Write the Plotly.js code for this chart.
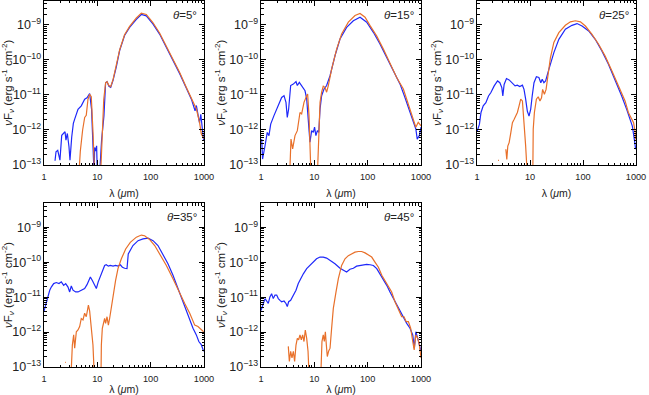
<!DOCTYPE html>
<html><head><meta charset="utf-8">
<script src="https://cdn.plot.ly/plotly-3.0.1.min.js"></script>
<style>html,body{margin:0;padding:0;background:#fff;}#c{width:649px;height:395px;}</style>
</head><body><div id="c"></div>
<script>
// Values: wavelength (micron) and log10(nu F_nu) in erg s^-1 cm^-2
const angles = ['5', '15', '25', '35', '45'];

const p1BlueLam = [1.61,1.68,1.81,1.89,1.99,2.15,2.30,2.48,2.58,2.74,2.94,3.07,3.31,3.55,3.76,4.34,5.0,5.79,6.4,7.18,7.8,8.5,8.7,8.9,9.3,9.7,10.0,11.0,12.0,13.3,14.3,15.2,16.5,17.8,19.7,22.7,26.2,32.4,40.3,53.9,66.8,82.8,110,147,196,262,350,465,580,680,720,780,825,870,930,985];
const p1BlueLogF = [-12.88,-12.62,-12.58,-12.77,-12.86,-12.15,-12.10,-12.05,-12.29,-12.10,-12.48,-12.86,-12.20,-11.81,-11.69,-11.41,-11.31,-11.12,-11.08,-10.96,-11.41,-12.9,-13.3,-12.5,-12.6,-12.45,-13.3,-13.3,-12.3,-11.6,-10.65,-10.62,-10.75,-10.78,-10.58,-10.20,-9.73,-9.30,-9.07,-8.84,-8.70,-8.74,-8.97,-9.26,-9.63,-10.01,-10.39,-10.80,-11.12,-11.45,-11.30,-11.60,-11.80,-11.55,-12.00,-12.30];
const p1OrangeLam = [4.5,4.8,5.3,5.79,6.2,6.68,7.18,7.7,8.3,8.9,11.5,12.4,13.2,14.3,15.2,16.5,17.8,19.7,22.7,26.2,32.4,40.3,53.9,66.8,82.8,110,147,196,262,350,465,580,720,825,890,955,1000];
const p1OrangeLogF = [-13.3,-12.6,-12.0,-11.64,-11.58,-11.12,-10.98,-11.05,-12.07,-13.3,-13.3,-12.07,-11.12,-10.65,-10.62,-10.73,-10.76,-10.56,-10.18,-9.71,-9.28,-9.04,-8.80,-8.66,-8.70,-8.93,-9.23,-9.60,-9.98,-10.36,-10.78,-11.10,-11.40,-11.78,-12.11,-12.20,-12.25];

const p2BlueLam = [1.03,1.07,1.19,1.31,1.41,1.52,1.75,2.11,2.44,2.70,2.94,3.11,3.30,3.60,4.04,4.53,4.80,5.23,5.78,6.69,7.19,7.83,8.28,8.91,9.58,10.1,10.7,11.4,12.1,12.8,13.7,15.2,17.0,19.7,24.4,30.3,40.3,53.9,71.9,95.9,128,170,228,304,405,500,622,718,800,850,930,1000];
const p2BlueLogF = [-12.26,-12.83,-12.45,-12.07,-12.16,-11.83,-11.59,-11.30,-11.07,-11.02,-11.21,-11.64,-11.40,-10.73,-10.69,-10.62,-10.73,-10.64,-10.75,-10.88,-11.11,-11.88,-12.35,-12.02,-12.07,-11.92,-12.16,-12.02,-12.07,-11.40,-11.02,-10.83,-10.73,-10.45,-9.88,-9.40,-9.07,-8.88,-8.78,-8.92,-9.21,-9.54,-9.92,-10.30,-10.69,-11.07,-11.50,-11.73,-11.97,-12.26,-12.16,-11.92];
const p2OrangeLam = [3.45,3.65,3.92,4.34,4.80,5.38,5.78,6.40,7.19,7.49,7.95,8.28,8.65,11.4,12.1,12.8,13.7,14.7,15.8,17.0,18.3,21.1,26.2,32.5,43.4,57.9,71.9,89.4,111,148,197,262,350,467,540,622,718,800,887,1000];
const p2OrangeLogF = [-13.3,-12.26,-12.54,-12.16,-12.02,-11.50,-11.54,-11.21,-11.02,-10.97,-11.59,-12.26,-13.3,-13.3,-12.07,-11.21,-10.92,-10.75,-10.78,-10.92,-10.73,-10.26,-9.69,-9.26,-8.92,-8.73,-8.67,-8.78,-9.02,-9.32,-9.69,-10.11,-10.50,-10.83,-11.11,-11.40,-11.69,-11.92,-11.78,-11.88];

const p3BlueLam = [1.0,1.03,1.11,1.19,1.31,1.47,1.65,1.83,2.11,2.44,2.70,2.94,3.07,3.25,3.60,4.04,4.66,5.23,5.78,6.40,7.19,7.71,8.28,8.90,9.58,10.3,11.0,11.9,13.2,14.7,16.0,17.0,18.3,19.7,22.7,28.2,35.0,46.5,62.0,77.1,95.9,128,170,227,302,403,537,667,770,853,930,985];
const p3BlueLogF = [-12.05,-11.98,-11.84,-11.50,-11.31,-11.22,-11.03,-10.93,-10.74,-10.60,-10.65,-10.79,-11.03,-10.70,-10.53,-10.57,-10.65,-10.74,-10.72,-10.76,-10.72,-10.84,-11.12,-11.46,-11.60,-11.41,-11.03,-10.65,-10.48,-10.50,-10.65,-10.55,-10.65,-10.60,-10.27,-9.79,-9.41,-9.12,-9.01,-8.96,-9.03,-9.17,-9.41,-9.74,-10.12,-10.55,-11.03,-11.41,-11.70,-11.89,-12.27,-12.55];
const p3OrangeLam = [2.50,2.60,null,3.50,3.65,3.81,4.04,4.34,4.66,5.0,5.38,5.78,6.22,6.68,7.19,7.71,8.28,8.90,11.3,11.5,12.1,13.2,14.3,15.4,16.5,17.3,18.7,20.1,22.0,24.3,28.2,35.0,46.5,57.9,71.9,89.4,111,148,197,262,350,467,622,718,800,900,960,985];
const p3OrangeLogF = [-12.87,-12.87,null,-12.55,-12.84,-12.46,-12.36,-12.08,-11.79,-11.70,-11.60,-11.50,-11.31,-11.12,-11.17,-11.70,-12.46,-13.3,-13.3,-11.98,-11.50,-11.12,-11.05,-11.17,-11.08,-10.84,-10.98,-10.84,-10.36,-9.93,-9.50,-9.22,-9.01,-8.91,-8.88,-8.91,-9.03,-9.27,-9.55,-9.89,-10.31,-10.74,-11.17,-11.50,-11.65,-11.79,-12.03,-12.27];

const p4BlueLam = [1.0,1.03,1.11,1.19,1.28,1.37,1.52,1.70,1.91,2.11,2.34,2.55,2.82,3.03,3.25,3.50,3.92,4.34,5.0,5.78,6.40,6.98,7.40,8.06,8.9,9.58,10.4,11.4,12.4,13.7,14.7,16.1,17.5,19.7,22.0,24.4,27.0,29.5,32.5,36.0,38.0,46.5,58.0,71.9,89.4,111,137,170,211,262,325,403,500,622,718,800,888,985];
const p4BlueLogF = [-11.40,-11.32,-11.13,-10.94,-10.80,-10.71,-10.61,-10.58,-10.61,-10.56,-10.66,-10.61,-10.71,-10.85,-10.68,-10.80,-10.85,-10.85,-10.80,-10.75,-10.64,-10.47,-10.42,-10.52,-10.66,-10.75,-10.56,-10.42,-10.28,-10.09,-10.07,-10.11,-10.09,-10.11,-10.09,-10.11,-10.07,-10.14,-10.17,-10.18,-9.76,-9.52,-9.38,-9.33,-9.31,-9.38,-9.52,-9.76,-10.04,-10.37,-10.75,-11.13,-11.51,-11.89,-12.08,-12.27,-12.36,-12.55];
const p4OrangeLam = [2.50,2.58,null,3.20,3.40,3.60,3.76,4.04,4.34,4.66,5.0,5.38,5.78,6.2,6.8,7.18,7.71,8.28,8.8,11.7,11.9,12.4,13.7,14.3,15.2,16.1,17.0,18.3,19.7,22.0,24.4,28.2,34.0,41.5,53.9,66.8,77.0,96,119,148,197,262,350,435,540,670,770,888,985];
const p4OrangeLogF = [-12.87,-12.87,null,-13.3,-12.37,-12.08,-12.46,-11.99,-11.94,-11.84,-11.61,-11.65,-11.46,-11.56,-11.23,-11.40,-11.80,-12.37,-13.3,-13.3,-12.37,-11.89,-11.61,-11.75,-11.56,-11.80,-11.61,-11.27,-10.94,-10.52,-10.18,-9.90,-9.62,-9.43,-9.28,-9.22,-9.24,-9.35,-9.52,-9.76,-10.09,-10.47,-10.90,-11.18,-11.46,-11.80,-11.84,-11.94,-11.99];

const p5BlueLam = [1.0,1.03,1.11,1.19,1.28,1.37,1.47,1.58,1.70,1.83,1.97,2.11,2.27,2.44,2.70,2.94,3.11,3.30,3.60,4.04,4.53,5.0,5.55,6.22,7.19,8.28,9.58,11.0,12.8,14.7,17.0,19.7,24.4,30.3,35.0,40.3,46.5,53.9,62.0,77.1,95.9,111,128,148,170,197,228,262,304,350,405,467,540,622,700,750,800,870,930,1000];
const p5BlueLogF = [-11.38,-11.32,-11.13,-11.04,-11.11,-11.18,-10.99,-10.90,-11.04,-10.94,-10.94,-11.04,-11.09,-11.13,-11.11,-11.18,-11.27,-11.13,-11.09,-10.94,-10.80,-10.61,-10.47,-10.33,-10.18,-10.09,-10.00,-9.90,-9.85,-9.85,-9.88,-9.95,-10.04,-10.17,-10.23,-10.28,-10.20,-10.17,-10.11,-10.09,-10.06,-10.07,-10.09,-10.18,-10.33,-10.52,-10.66,-10.85,-11.04,-11.23,-11.42,-11.61,-11.75,-11.89,-12.08,-12.46,-11.99,-12.18,-12.36,-12.55];
const p5OrangeLam = [3.25,3.40,3.60,3.81,4.04,4.27,4.53,4.80,5.08,5.38,5.70,6.04,6.40,6.77,7.19,7.62,8.0,13.2,13.9,14.7,15.4,16.1,16.8,17.5,18.5,19.7,21.1,22.7,25.5,28.2,32.5,37.6,43.4,50.2,57.9,67,77.1,89.4,103,119,138,159,184,211,244,282,325,375,434,481,527,580,640,700,745,800,870,930,1000];
const p5OrangeLogF = [-12.41,-12.84,-12.55,-12.74,-12.55,-12.84,-12.37,-12.18,-12.22,-12.08,-12.22,-12.08,-12.27,-11.94,-12.18,-12.55,-13.3,-13.3,-12.27,-12.08,-12.27,-11.99,-12.37,-12.70,-12.55,-12.46,-11.89,-11.32,-10.85,-10.47,-10.09,-9.90,-9.81,-9.76,-9.71,-9.69,-9.69,-9.73,-9.79,-9.85,-10.00,-10.14,-10.37,-10.52,-10.71,-10.85,-11.13,-11.32,-11.56,-11.56,-11.70,-11.70,-11.89,-12.27,-12.51,-12.08,-12.18,-12.36,-12.74];

const xTickVals = [1, 10, 100, 1000];
const panels = [
  {lamB:p1BlueLam, fB:p1BlueLogF, lamO:p1OrangeLam, fO:p1OrangeLogF},
  {lamB:p2BlueLam, fB:p2BlueLogF, lamO:p2OrangeLam, fO:p2OrangeLogF},
  {lamB:p3BlueLam, fB:p3BlueLogF, lamO:p3OrangeLam, fO:p3OrangeLogF},
  {lamB:p4BlueLam, fB:p4BlueLogF, lamO:p4OrangeLam, fO:p4OrangeLogF},
  {lamB:p5BlueLam, fB:p5BlueLogF, lamO:p5OrangeLam, fO:p5OrangeLogF}
];

const BLUE = 'rgb(30,40,250)';
const ORANGE = 'rgb(232,112,42)';
const W = 649, H = 395;
// panel frames in px: [left, right, top, bottom]
const frames = [[44,204,0.5,165],[261,421,0.5,165],[477,636,0.5,165],[44,204,203,367],[261,421,203,367]];

const toLin = a => a.map(v => v === null ? null : Math.pow(10, v));
const traces = [];
const layout = {
  width: W, height: H, margin: {l:0, r:0, t:0, b:0},
  paper_bgcolor: '#fff', plot_bgcolor: '#fff', showlegend: false,
  font: {family: 'Liberation Sans, Arial, sans-serif', color: '#222'},
  annotations: []
};
panels.forEach((p, i) => {
  const n = i + 1;
  const xs = 'x' + (n === 1 ? '' : n), ys = 'y' + (n === 1 ? '' : n);
  traces.push({x: p.lamB, y: toLin(p.fB), xaxis: xs, yaxis: ys, mode: 'lines',
    line: {color: BLUE, width: 1.2}, connectgaps: false, hoverinfo: 'skip'});
  traces.push({x: p.lamO, y: toLin(p.fO), xaxis: xs, yaxis: ys, mode: 'lines',
    line: {color: ORANGE, width: 1.2}, connectgaps: false, hoverinfo: 'skip'});
  const f = frames[i];
  const common = {type: 'log', ticks: 'inside', tickwidth: 1, tickcolor: '#000',
    showline: true, linecolor: '#000', linewidth: 1, mirror: 'allticks',
    showgrid: false, zeroline: false, tickfont: {size: 10, color: '#222'},
    ticklabeloverflow: 'allow',
    minor: {ticks: 'inside', ticklen: 2.5, tickcolor: '#000', dtick: 'D1', showgrid: false}};
  layout['xaxis' + (n === 1 ? '' : n)] = Object.assign({}, common, {
    domain: [f[0] / W, f[1] / W], anchor: ys, range: [0, 3],
    tickmode: 'array', tickvals: xTickVals, ticktext: xTickVals.map(String), ticklen: 5,
    ticklabelstandoff: 3, tickfont: {size: 9.2, color: '#222'},
    title: {text: 'λ (<i>μ</i>m)', font: {size: 10.5, color: '#222'}, standoff: 8}
  });
  layout['yaxis' + (n === 1 ? '' : n)] = Object.assign({}, common, {
    domain: [1 - f[3] / H, 1 - f[2] / H], anchor: xs, range: [-13, Math.log10(5e-9)],
    dtick: 1, tick0: 0, exponentformat: 'power', ticklen: 5,
    title: {text: '<i>ν</i>F<sub><i>ν</i></sub> (erg s<sup>-1</sup> cm<sup>-2</sup>)', font: {size: 11.5, color: '#222'}, standoff: 1}
  });
  layout.annotations.push({xref: xs + ' domain', yref: ys + ' domain', x: 1, y: 1,
    xanchor: 'right', yanchor: 'middle', xshift: -5, yshift: -14, showarrow: false,
    text: '<i>θ</i>=' + angles[i] + '°', font: {size: 11.5, color: '#222'}});
});
Plotly.newPlot('c', traces, layout, {staticPlot: true});
</script></body></html>
